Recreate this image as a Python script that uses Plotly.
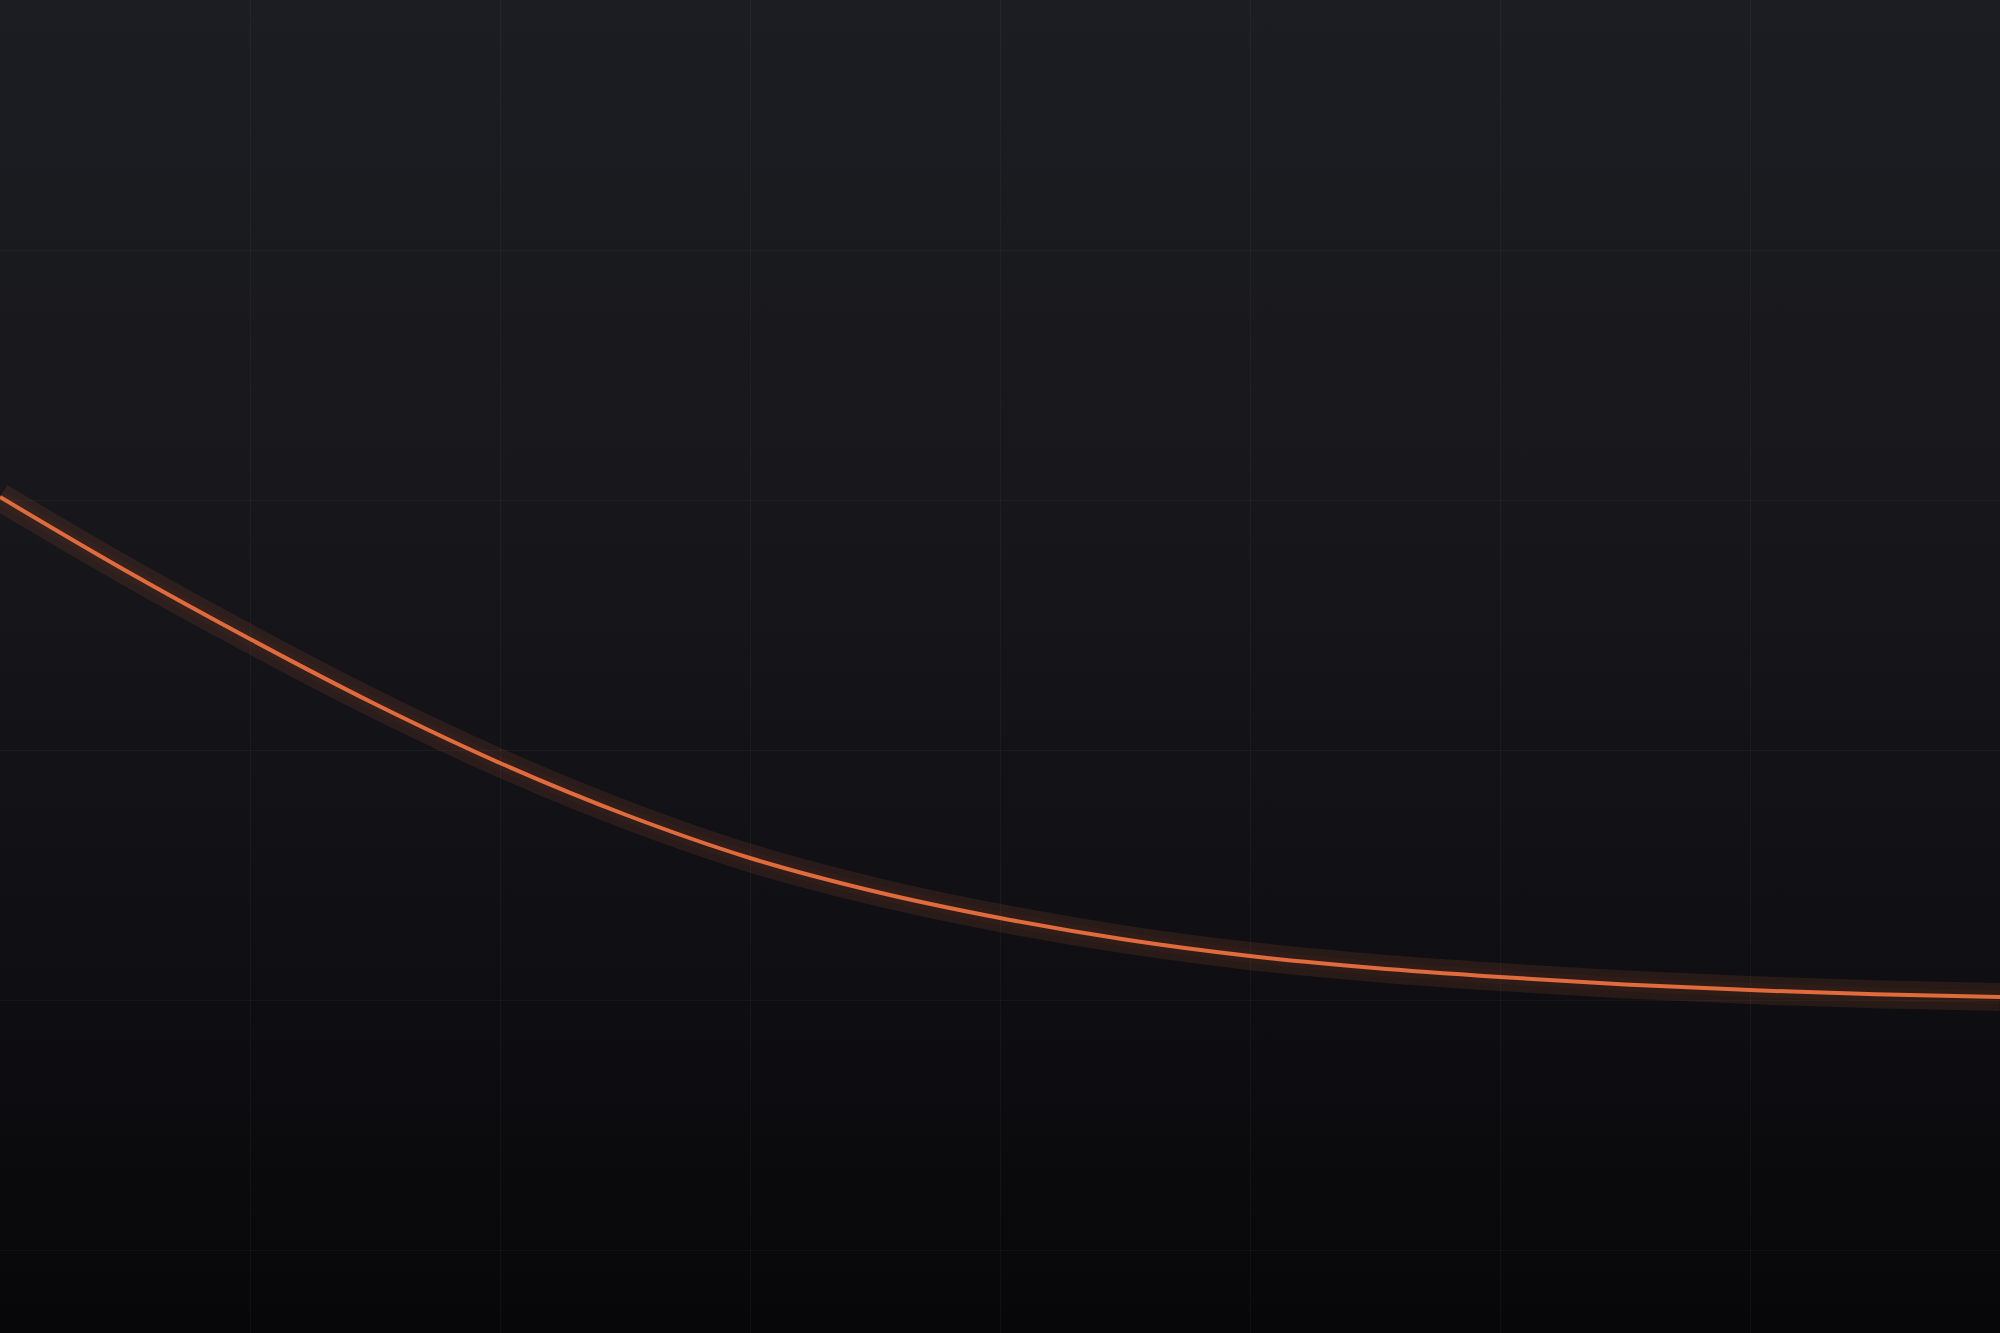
import urllib.parse
import plotly.graph_objects as go

# curve samples (x in grid units, y in grid units)
x_vals = [0, 0.5, 1, 1.5, 2, 2.5, 3, 3.5, 4, 4.5, 5, 5.5, 6, 6.5, 7, 7.5, 8]
y_vals = [3.012, 2.719, 2.444, 2.184, 1.948, 1.742, 1.568, 1.434, 1.328,
          1.242, 1.176, 1.128, 1.092, 1.062, 1.040, 1.023, 1.012]

x_range = [0, 8]
y_range = [-0.332, 5]

ORANGE = '#e06b3c'
W, H = 2000, 1333

# vertical background gradient as an svg data uri
svg = (
    '<svg xmlns="http://www.w3.org/2000/svg" width="100" height="100" preserveAspectRatio="none">'
    '<defs><linearGradient id="g" x1="0" y1="0" x2="0" y2="1">'
    '<stop offset="0" stop-color="#1c1d22"/>'
    '<stop offset="0.35" stop-color="#17171c"/>'
    '<stop offset="0.7" stop-color="#101014"/>'
    '<stop offset="1" stop-color="#070709"/>'
    '</linearGradient></defs>'
    '<rect width="100" height="100" fill="url(#g)"/></svg>'
)
bg_src = 'data:image/svg+xml;charset=utf-8,' + urllib.parse.quote(svg)

fig = go.Figure()

# soft glow under the line
fig.add_trace(go.Scatter(
    x=x_vals, y=y_vals, mode='lines', hoverinfo='skip',
    line=dict(color='rgba(224,107,60,0.12)', width=28, shape='spline'),
))
fig.add_trace(go.Scatter(
    x=x_vals, y=y_vals, mode='lines', hoverinfo='skip',
    line=dict(color='rgba(224,107,60,0.04)', width=14, shape='spline'),
))
# main line
fig.add_trace(go.Scatter(
    x=x_vals, y=y_vals, mode='lines',
    line=dict(color=ORANGE, width=4, shape='spline'),
))

axis_style = dict(
    showgrid=True, gridcolor='rgba(255,255,255,0.035)', gridwidth=1,
    zeroline=False, showticklabels=False, ticks='', showline=False,
    dtick=1, tick0=0, fixedrange=True,
)
fig.update_xaxes(range=x_range, **axis_style)
fig.update_yaxes(range=y_range, **axis_style)

fig.update_layout(
    width=W, height=H, autosize=False,
    margin=dict(l=0, r=0, t=0, b=0, pad=0),
    showlegend=False,
    paper_bgcolor='#121216',
    plot_bgcolor='rgba(0,0,0,0)',
    images=[dict(
        source=bg_src, xref='paper', yref='paper', x=0, y=1,
        sizex=1, sizey=1, sizing='stretch', layer='below',
        xanchor='left', yanchor='top',
    )],
)

fig.write_html(
    "out.html",
    config={'displayModeBar': False},
    post_script="document.body.style.margin='0';document.body.style.background='#121216';",
)
